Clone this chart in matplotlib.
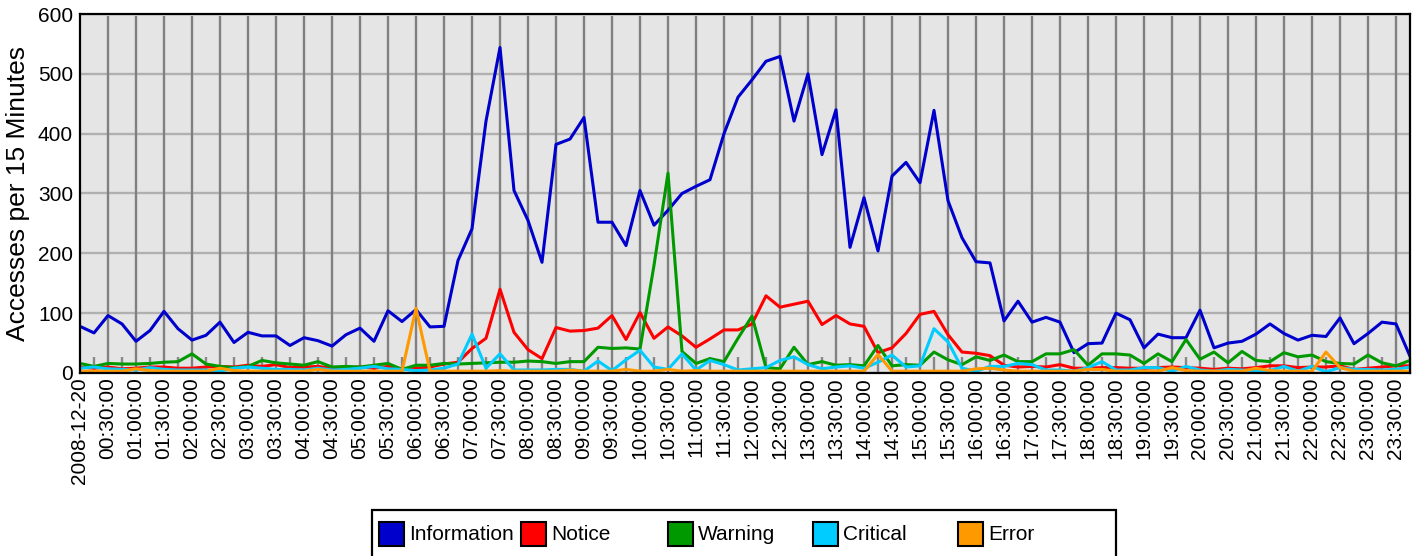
import matplotlib
matplotlib.use("Agg")
import matplotlib.pyplot as plt
from matplotlib.patches import Rectangle
from matplotlib.ticker import FixedLocator

plt.rcParams["font.family"] = ["Liberation Sans", "DejaVu Sans"]

# one point every 15 minutes on 2008-12-20
info = [78, 67, 96, 82, 53, 71, 103, 74, 55, 63,
        85, 51, 68, 62, 62, 46, 59, 54, 45, 64,
        75, 53, 104, 86, 106, 77, 78, 188, 241, 421,
        544, 305, 255, 185, 382, 391, 427, 252, 252, 213,
        305, 247, 272, 300, 312, 323, 400, 461, 490, 521,
        529, 421, 500, 365, 440, 210, 293, 204, 329, 352,
        318, 439, 288, 226, 186, 184, 87, 120, 85, 93,
        85, 34, 49, 50, 100, 89, 42, 65, 59, 59,
        105, 42, 50, 53, 65, 82, 66, 55, 63, 61,
        92, 49, 66, 85, 82, 28]
notice = [10, 8, 10, 7, 8, 10, 10, 8, 8, 10,
          11, 10, 13, 11, 14, 9, 10, 11, 8, 9,
          10, 8, 11, 7, 8, 10, 15, 18, 41, 58,
          140, 68, 39, 24, 76, 70, 71, 75, 96, 56,
          101, 58, 77, 62, 43, 57, 72, 72, 82, 129,
          110, 115, 120, 81, 96, 82, 78, 34, 42, 66,
          98, 103, 64, 35, 33, 29, 13, 10, 11, 10,
          14, 8, 8, 9, 9, 8, 8, 9, 10, 9,
          8, 6, 8, 7, 9, 12, 12, 9, 10, 10,
          12, 6, 8, 10, 12, 12]
warning = [16, 11, 16, 15, 15, 16, 18, 19, 32, 15,
           11, 9, 11, 21, 17, 15, 13, 19, 10, 11,
           10, 13, 16, 6, 13, 13, 16, 15, 16, 17,
           18, 18, 20, 19, 16, 19, 19, 43, 41, 42,
           40, 180, 334, 36, 16, 24, 19, 58, 95, 9,
           7, 43, 14, 19, 13, 14, 12, 46, 12, 14,
           13, 35, 22, 14, 27, 21, 30, 19, 19, 32,
           32, 39, 13, 32, 32, 30, 16, 32, 19, 56,
           23, 35, 17, 36, 21, 19, 34, 27, 30, 19,
           16, 15, 30, 17, 12, 21]
critical = [8, 10, 7, 6, 5, 9, 6, 5, 5, 5,
            3, 8, 10, 8, 6, 6, 5, 8, 5, 6,
            8, 11, 7, 6, 4, 5, 8, 15, 65, 8,
            32, 5, 5, 5, 6, 6, 3, 20, 4, 22,
            38, 10, 6, 32, 5, 21, 14, 5, 7, 9,
            21, 27, 14, 7, 10, 12, 8, 18, 30, 10,
            12, 74, 52, 8, 3, 11, 11, 16, 14, 5,
            5, 3, 9, 19, 5, 5, 9, 9, 3, 11,
            5, 3, 6, 5, 4, 4, 11, 3, 11, 2,
            9, 6, 6, 5, 6, 10]
error = [3, 3, 3, 3, 7, 4, 3, 3, 3, 3,
         8, 4, 3, 3, 3, 3, 3, 6, 3, 3,
         3, 3, 3, 3, 108, 3, 3, 3, 3, 3,
         4, 3, 3, 3, 3, 5, 3, 3, 3, 6,
         3, 3, 6, 3, 4, 3, 3, 3, 3, 3,
         3, 3, 3, 3, 3, 3, 3, 31, 3, 3,
         3, 3, 3, 3, 7, 8, 5, 3, 3, 3,
         3, 3, 6, 6, 3, 3, 3, 3, 9, 4,
         3, 3, 3, 3, 8, 4, 3, 3, 3, 35,
         9, 3, 3, 3, 3, 3]

series_names = ["Information", "Notice", "Warning", "Critical", "Error"]
series_colors = ["#0000cc", "#ff0000", "#009900", "#00ccff", "#ff9900"]
tick_labels = ["2008-12-20"] + [f"{h:02d}:{m:02d}:00" for h in range(24) for m in (0, 30)][1:]

fig = plt.figure(figsize=(14.19, 5.56), dpi=100)
ax = fig.add_axes([80 / 1419, 1 - 373 / 556, 1330 / 1419, 359 / 556])
ax.set_facecolor("#e5e5e5")

x = list(range(len(info)))
for vals, col in zip([info, notice, warning, critical, error], series_colors):
    ax.plot(x, vals, color=col, lw=2.2, zorder=3)

ax.set_xlim(0, len(info) - 1)
ax.set_ylim(0, 600)
ax.set_yticks(range(0, 601, 100))
ax.set_xticks(range(0, len(info), 2))
ax.set_xticklabels(tick_labels, rotation=90, fontsize=15)
ax.xaxis.set_minor_locator(FixedLocator(range(1, len(info), 2)))
ax.tick_params(axis="x", which="major", length=0, pad=3)
ax.tick_params(axis="x", which="minor", direction="in", length=11.5, width=1.7, color="#888888")
ax.tick_params(axis="y", length=0, pad=5, labelsize=15)

# vertical grid stops just short of the top frame
ax.vlines(range(2, len(info), 2), 0, 596, color="#808080", lw=1.7, zorder=1)
ax.grid(axis="y", which="major", color="#b0b0b0", lw=1.7, zorder=1)
ax.set_axisbelow(True)
for s in ax.spines.values():
    s.set_linewidth(1.6)
    s.set_color("black")
    s.set_zorder(4)

ax.set_ylabel("Accesses per 15 Minutes", fontsize=19, labelpad=6)

# legend box below the plot
W, H = 1419, 556
fig.patches.append(Rectangle((372 / W, -0.05), (1116 - 372) / W, 0.05 + (556 - 510) / H,
                             transform=fig.transFigure, facecolor="white",
                             edgecolor="black", lw=1.6))
legend_x = [379, 521, 668, 813, 958]
for lx, name, col in zip(legend_x, series_names, series_colors):
    fig.patches.append(Rectangle((lx / W, 1 - 546 / H), 25 / W, 24 / H,
                                 transform=fig.transFigure, facecolor=col,
                                 edgecolor="black", lw=1.5))
    fig.text((lx + 30) / W, 1 - 535 / H, name, fontsize=15, va="center", ha="left")

fig.savefig("out.png", dpi=100)
